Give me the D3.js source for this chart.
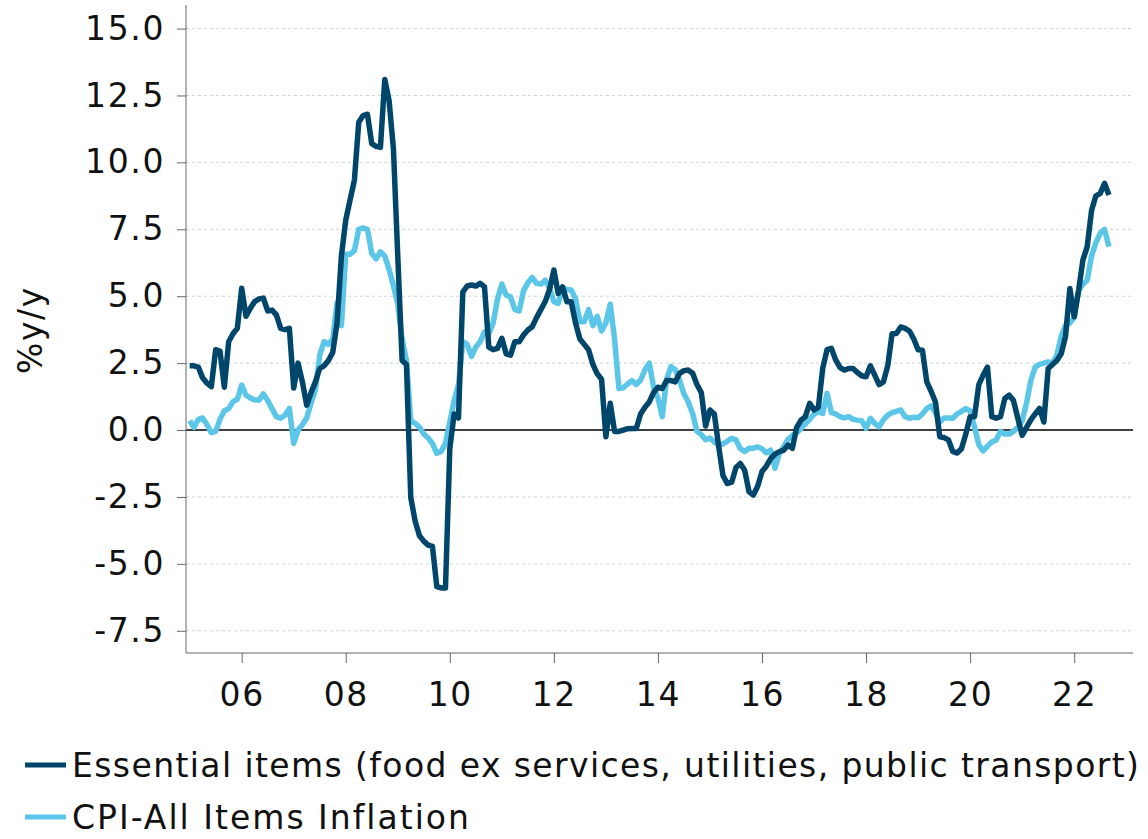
<!DOCTYPE html>
<html>
<head>
    <meta charset="utf-8">
    <script src="https://d3js.org/d3.v7.min.js"></script>
    <style>
        body {margin: 0; background: #fff; font-family: "DejaVu Sans", Verdana, sans-serif;}
        .grid line { stroke: #c9d5da; stroke-width: 1; stroke-dasharray: 3,3; }
        .axis path, .axis line { stroke: #666; }
        .axis text { fill: #111; font-size: 33px; letter-spacing: 1.6px; font-family: "DejaVu Sans", Verdana, sans-serif; }
        .line { fill: none; stroke-width: 5.5px; stroke-linejoin: round; }
        .legend text { font-size: 33px; letter-spacing: 1.4px; fill: #111; }
    </style>
</head>
<body>
    <svg width="1148" height="839"></svg>
    <script>
        // monthly series, Jan 2005 .. Sep 2022
        let startYear = 2005;
        let essential = [
            2.4, 2.4, 2.35, 1.95, 1.75, 1.62, 3.0, 2.95, 1.6, 3.3, 3.6, 3.8,
            5.3, 4.25, 4.55, 4.8, 4.9, 4.93, 4.45, 4.48, 4.3, 3.8, 3.75, 3.8,
            1.57, 2.5, 1.8, 0.93, 1.4, 1.8, 2.3, 2.4, 2.6, 2.9, 4.0, 6.5,
            7.84, 8.6, 9.34, 11.5, 11.75, 11.8, 10.7, 10.6, 10.56, 13.1, 12.3, 10.5,
            6.5, 2.6, 2.45, -2.52, -3.4, -3.95, -4.15, -4.3, -4.35, -5.85, -5.9, -5.9,
            -0.7, 0.6, 0.45, 5.15, 5.38, 5.42, 5.38, 5.48, 5.35, 3.1, 3.0, 3.05,
            3.43, 2.85, 2.8, 3.3, 3.3, 3.55, 3.74, 3.86, 4.2, 4.5, 4.8, 5.25,
            5.98, 5.1, 5.35, 4.79, 4.79, 4.0, 3.4, 3.2, 3.0, 2.45, 2.1, 1.9,
            -0.25, 1.0, -0.05, -0.05, 0.0, 0.05, 0.06, 0.06, 0.6, 0.85, 1.05, 1.4,
            1.6, 1.55, 1.85, 1.85, 1.8, 2.12, 2.22, 2.24, 2.12, 1.7, 1.4, 0.15,
            0.75, 0.6, -0.6, -1.7, -2.0, -1.95, -1.4, -1.25, -1.5, -2.3, -2.43, -2.1,
            -1.55, -1.35, -1.07, -0.9, -0.81, -0.75, -0.56, -0.68, 0.1, 0.37, 0.5, 1.0,
            0.75, 0.85, 2.3, 3.0, 3.05, 2.62, 2.33, 2.24, 2.3, 2.3, 2.15, 2.03,
            1.99, 2.4, 2.05, 1.7, 1.8, 2.4, 3.6, 3.61, 3.85, 3.8, 3.7, 3.4,
            3.0, 2.98, 1.8, 1.45, 1.05, -0.25, -0.28, -0.37, -0.8, -0.86, -0.7, -0.15,
            0.5, 0.5, 1.7, 2.05, 2.35, 0.5, 0.44, 0.5, 1.18, 1.3, 1.1, 0.44,
            -0.2, 0.1, 0.38, 0.6, 0.81, 0.3, 2.3, 2.45, 2.6, 2.85, 3.5, 5.29,
            4.23, 5.2, 6.35, 6.85, 8.2, 8.75, 8.84, 9.22, 8.78
        ];
        let cpiAll = [
            0.35, 0.1, 0.4, 0.45, 0.2, -0.1, -0.05, 0.4, 0.72, 0.8, 1.06, 1.15,
            1.68, 1.3, 1.2, 1.12, 1.12, 1.35, 1.1, 0.8, 0.5, 0.44, 0.55, 0.81,
            -0.5, 0.0, 0.2, 0.45, 1.0, 1.5, 2.8, 3.3, 3.2, 3.4, 4.75, 3.9,
            6.57, 6.57, 6.7, 7.5, 7.55, 7.5, 6.6, 6.4, 6.66, 6.5, 6.0, 5.4,
            4.7, 3.4, 2.6, 0.35, 0.25, 0.1, -0.15, -0.3, -0.5, -0.87, -0.8, -0.5,
            0.3, 1.1, 1.7, 3.3, 3.2, 2.75, 3.1, 3.3, 3.67, 3.6, 4.0, 4.9,
            5.45, 5.04, 4.98, 4.5, 4.45, 5.2, 5.5, 5.7, 5.48, 5.45, 5.6, 5.3,
            4.8, 4.73, 5.3, 5.25, 5.23, 4.9, 4.05, 4.05, 4.5, 3.9, 4.25, 3.7,
            4.0, 4.7, 3.4, 1.55, 1.58, 1.72, 1.85, 1.7, 1.87, 2.25, 2.5, 1.6,
            1.2, 0.5, 1.9, 2.37, 2.25, 1.85, 1.35, 1.05, 0.62, -0.05, -0.17, -0.36,
            -0.3, -0.45, -0.55, -0.52, -0.42, -0.31, -0.37, -0.7, -0.8, -0.68, -0.68, -0.63,
            -0.7, -0.85, -0.75, -1.43, -0.87, -0.62, -0.35, -0.2, -0.1, 0.06, 0.23, 0.4,
            0.6, 0.68, 0.62, 1.37, 0.65, 0.6, 0.5, 0.45, 0.5, 0.4, 0.37, 0.35,
            0.06, 0.44, 0.25, 0.12, 0.38, 0.56, 0.65, 0.7, 0.75, 0.5, 0.44, 0.48,
            0.46, 0.6, 0.8, 0.9, 0.65, 0.3, 0.45, 0.45, 0.44, 0.6, 0.7, 0.8,
            0.72, 0.12, -0.55, -0.78, -0.6, -0.45, -0.37, -0.05, -0.15, -0.15, -0.05, 0.1,
            0.35, 1.0, 1.85, 2.35, 2.45, 2.5, 2.55, 2.5, 2.8, 3.5, 3.9, 4.0,
            4.2, 5.2, 5.45, 5.6, 6.5, 7.0, 7.35, 7.5, 6.85
        ];
        let yTicks = [-7.5, -5.0, -2.5, 0.0, 2.5, 5.0, 7.5, 10.0, 12.5, 15.0];
        let xTickYears = [2006, 2008, 2010, 2012, 2014, 2016, 2018, 2020, 2022];
        let seriesNames = ["Essential items (food ex services, utilities, public transport)", "CPI-All Items Inflation"];
        let seriesColors = ["#00466b", "#5bc6e8"];

        let svg = d3.select("svg");
        let plotLeft = 186, plotRight = 1133, plotTop = 5, plotBottom = 653;

        let x = d3.scaleLinear().domain([2004.93, 2023.13]).range([plotLeft, plotRight]);
        let y = d3.scaleLinear().domain([-8.33, 15.88]).range([plotBottom, plotTop]);

        // dashed gridlines
        svg.append("g").attr("class", "grid")
            .selectAll("line")
            .data(yTicks.filter(d => d !== 0))
            .enter()
            .append("line")
            .attr("x1", plotLeft).attr("x2", plotRight)
            .attr("y1", d => y(d)).attr("y2", d => y(d));

        // zero line
        svg.append("line")
            .attr("x1", plotLeft).attr("x2", plotRight)
            .attr("y1", y(0)).attr("y2", y(0))
            .attr("stroke", "#000").attr("stroke-width", 1.6);

        // axes
        let yAxis = svg.append("g").attr("class", "axis")
            .attr("transform", `translate(${plotLeft},0)`)
            .call(d3.axisLeft(y).tickValues(yTicks).tickFormat(d => d.toFixed(1)).tickSize(9).tickPadding(12));
        yAxis.select(".domain").attr("d", `M0,${plotTop}V${plotBottom}`);

        let xAxis = svg.append("g").attr("class", "axis")
            .attr("transform", `translate(0,${plotBottom})`)
            .call(d3.axisBottom(x).tickValues(xTickYears).tickFormat(d => String(d).slice(2)).tickSize(10).tickPadding(20));
        xAxis.select(".domain").attr("d", `M${plotLeft},0H${plotRight}`);

        svg.append("text")
            .attr("transform", "translate(42,330) rotate(-90)")
            .attr("text-anchor", "middle")
            .style("font-size", "33px")
            .style("letter-spacing", "1.6px")
            .attr("fill", "#111")
            .text("%y/y");

        // lines
        let line = d3.line()
            .x((d, i) => x(startYear + i / 12))
            .y(d => y(d));

        [cpiAll, essential].forEach((s, k) => {
            svg.append("path")
                .datum(s)
                .attr("class", "line")
                .attr("stroke", seriesColors[1 - k])
                .attr("d", line);
        });

        // legend
        let legend = svg.append("g").attr("class", "legend");
        seriesNames.forEach((name, i) => {
            let ly = 765 + i * 52;
            legend.append("line")
                .attr("x1", 25).attr("x2", 66)
                .attr("y1", ly).attr("y2", ly)
                .attr("stroke", seriesColors[i]).attr("stroke-width", 5);
            legend.append("text")
                .attr("x", 72).attr("y", ly)
                .attr("dy", "0.36em")
                .style("letter-spacing", i === 1 ? "2px" : null)
                .text(name);
        });
    </script>
</body>
</html>
